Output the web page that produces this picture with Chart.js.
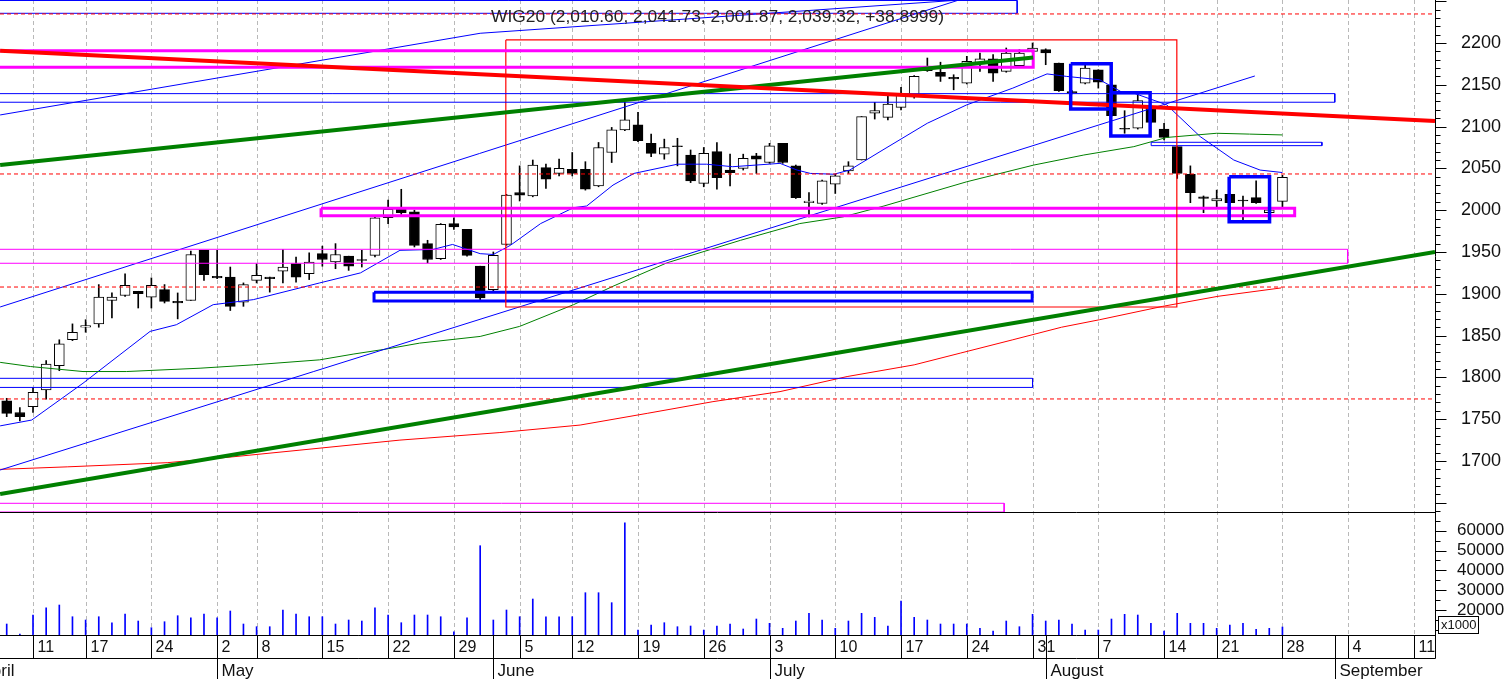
<!DOCTYPE html>
<html>
<head>
<meta charset="utf-8">
<script src="https://cdn.jsdelivr.net/npm/chart.js@4.4.0/dist/chart.umd.min.js"></script>
<style>
html,body{margin:0;padding:0;background:#fff;overflow:hidden}
canvas{display:block}
</style>
</head>
<body>
<canvas id="chart" width="1506" height="679"></canvas>
<script>
// WIG20 daily, trading-day index 0 = 5 Apr 2023 ... 97 = 28 Aug 2023
const open = [1772,1758,1765,1785,1814,1845,1860,1864,1892,1898, 1903,1896,1905,1891,1892,1952,1921,1920,1890,1916,
  1920,1927,1936,1924,1948,1938,1945,1941,1946,1991, 2001,1998,1960,1942,1984,1977,1933,1905,1959,2021,
  2017,2051,2044,2049,2049,2029,2069,2096,2102,2080, 2067,2077,2066,2032,2070,2048,2050,2065,2057,2080,
  2053,2009,2008,2031,2047,2060,2116,2111,2123,2136, 2167,2165,2159,2152,2175,2181,2166,2173,2190,2192,
  2176,2142,2152,2168,2150,2098,2098,2123,2097,2076, 2043,2016,2011,2019,2012,2015,1997,2010.60];
const high = [1775,1764,1788,1820,1845,1864,1869,1911,1901,1924, 1903,1919,1911,1901,1951,1952,1952,1932,1913,1936,
  1920,1953,1944,1949,1957,1960,1945,1952,1992,2012, 2025,2000,1964,1984,1991,1977,1933,1950,2019,2053,
  2060,2055,2061,2069,2058,2081,2099,2129,2117,2091, 2085,2086,2072,2075,2081,2067,2067,2068,2080,2080,
  2054,2021,2036,2043,2058,2112,2129,2137,2147,2161, 2182,2177,2162,2184,2188,2186,2194,2192,2200,2193,
  2176,2143,2174,2168,2150,2119,2139,2124,2104,2076, 2053,2017,2024,2020,2017,2035,2001,2041.73];
const low = [1753,1748,1758,1774,1808,1844,1854,1860,1871,1897, 1883,1883,1889,1870,1892,1916,1918,1880,1885,1913,
  1902,1913,1914,1917,1933,1930,1928,1932,1944,1984, 1995,1956,1937,1941,1977,1945,1893,1903,1958,2011,
  2016,2026,2041,2041,2024,2028,2057,2095,2082,2064, 2061,2053,2033,2028,2025,2029,2048,2044,2056,2056,
  2014,1992,2007,2020,2044,2060,2109,2108,2120,2134, 2166,2154,2144,2151,2166,2154,2165,2172,2189,2174,
  2142,2139,2151,2146,2112,2092,2097,2104,2084,2038, 2009,1997,2004,2008,1988,2008,1996,2001.87];
const close = [1757,1753,1782,1816,1840,1854,1862,1896,1896,1910, 1900,1910,1891,1889,1947,1923,1919,1885,1911,1922,
  1918,1932,1920,1938,1941,1947,1933,1940,1991,2001, 1997,1958,1941,1983,1980,1946,1895,1946,2018,2018,
  2054,2037,2050,2044,2025,2075,2096,2108,2083,2068, 2075,2076,2035,2068,2039,2045,2062,2061,2077,2057,
  2015,2011,2035,2041,2053,2112,2119,2127,2138,2160, 2170,2160,2157,2178,2181,2164,2188,2188,2194,2188,
  2143,2140,2170,2153,2113,2097,2131,2105,2087,2044, 2021,2014,2014,2009,2011,2009,2000.42,2039.32];
// volume in thousands
const volume = [12940,7900,17480,21160,22520,16620,14960,16620,13600,17980, 14450,11080,14100,17130,16120,17980,16120,19500,12940,11590,
  11590,20000,17980,16620,16620,12940,14960,14450,21160,17480, 13600,17480,17480,16620,9000,16120,52430,14960,20000,16620,
  25550,16620,16620,16620,28730,28730,23700,64030,9910,12430, 13600,11590,11930,9910,11930,12940,10420,15460,13290,10770,
  14450,18330,14960,10770,14450,18330,16300,11930,24540,16300, 14960,12940,12940,12940,10770,9410,14450,11590,17830,14450,
  14960,12940,9910,9910,15460,17830,17480,13290,9410,18330, 13290,13290,10770,12430,13290,10270,10770,11430];

const titleText = 'WIG20 (2,010.60, 2,041.73, 2,001.87, 2,039.32, +38.8999)';

// first trading day of each week and its day-of-month label
const weekStarts = [2,6,11,16,19,24,29,34,39,43,48,53,58,63,68,73,78,83,88,92,97,102,107];
const weekLabels = ['11','17','24','2','8','15','22','29','5','12','19','26','3','10','17','24','31','7','14','21','28','4','11'];
const monthStarts = [-2.3,16,37,58,79,101];
const monthNames = ['April','May','June','July','August','September'];
const priceTicks = [1700,1750,1800,1850,1900,1950,2000,2050,2100,2150,2200];
const volTicks = [20000,30000,40000,50000,60000];

// moving averages: [day index, value]
const avgFast = [[-0.5,1742],[1.9,1749],[5.8,1793],[10.9,1855],[12.9,1863],[15.7,1887],[18.75,1893],[23.8,1913],[26.9,1925],
  [29.9,1952],[32.4,1953],[33.9,1959],[36,1948],[37,1947],[38.3,1958],[40.6,1984],[43.1,2003],[44.1,2005],[46.1,2030],
  [47.7,2044],[51,2055],[53.2,2055],[55.2,2052],[58.8,2056],[60.1,2048],[61.1,2044],[62.9,2043],[64.1,2048],[66.4,2070],
  [70,2104],[73,2126],[76.5,2146],[79.1,2163],[80.6,2160],[83.1,2156],[84.7,2142],[85.7,2140],[88.2,2126],[90.75,2088],
  [93.3,2060],[95.3,2048],[97,2045]];
const avgMid = [[-0.5,1818],[1.8,1813],[5.8,1807],[9.1,1807],[14.7,1811],[18.75,1815],[23.8,1821],[26.4,1828],[28.9,1834],
  [31.4,1841],[36,1849],[39,1861],[43.1,1887],[46.1,1909],[50.2,1937],[55.8,1964],[60.3,1984],[63.6,1992],[66.7,2005],
  [73,2034],[78.1,2054],[81.9,2066],[85.7,2076],[88.2,2087],[92,2092],[94.5,2091],[97,2090]];
const avgSlow = [[-0.5,1690],[4.6,1693],[12.2,1698],[17.2,1705],[22.3,1713],[29.9,1725],[37.5,1734],[43.6,1743],[48.7,1757],
  [53.7,1771],[58.8,1783],[63.9,1801],[69,1815],[72.5,1829],[76.5,1845],[80.2,1860],[83.1,1869],[87.9,1885],[92.1,1897],[96.9,1907]];

// drawn trend lines
const trendRed = [[-0.5,2190.8],[108.6,2106.7]];
const trendGreenHigh = [[-0.5,2054],[78.05,2182.5]];
const trendGreenLow = [[-0.5,1660.5],[108.6,1950]];
const channelLow = [[-0.5,1689.2],[94.9,2160.5]];
const channelMid = [[-0.5,1884.2],[72.4,2251.4]];
const channelHigh = [[-0.5,2113.9],[36,2211.6],[72.5,2251.4]];
const levels = [2234.7, 2043.3, 1908.1, 1774.2];

// drawn rectangles: from/to day index, high/low price
const zoneFrom = [-3, -3, -3, 37.95, 23.9, -3, 27.93, -3, -3, 87.02];
const zoneTo   = [76.83, 78.05, 100.98, 88.97, 97.93, 101.96, 77.97, 78.0, 75.84, 100.0];
const zoneHigh = [2250.8, 2190.8, 2139.4, 2203.6, 2002.3, 1953.2, 1901.8, 1798.9, 1649.4, 2081.2];
const zoneLow  = [2235.5, 2170.9, 2129.1, 1884.2, 1993.4, 1936.5, 1891.4, 1788.0, 1639, 2077.2];
const boxFrom = [80.9, 83.95, 92.95];
const boxTo   = [83.98, 86.94, 96.02];
const boxHigh = [2175.2, 2140.6, 2040];
const boxLow  = [2121, 2088.8, 1986.2];

const xMin = -0.51, xMax = 108.6;
const priceMin = 1639, priceMax = 2251.4;
const volMin = 7400, volMax = 69430;

const zoneColor = ['#0000ff','#ff00ff','#0000ff','#ff0000','#ff00ff','#ff00ff','#0000ff','#0000ff','#ff00ff','#0000ff'];
const zoneWidth = [1, 3, 1, 1.2, 3, 1, 3, 1, 1, 1];
const FONT = '"Liberation Sans", Arial, sans-serif';

const days = open.map((_, i) => i);

function line(points, color, width, order, dash){
  return {type:'line', yAxisID:'y', data:points.map(p => ({x:p[0], y:p[1]})), borderColor:color, borderWidth:width,
    borderDash:dash || [], pointRadius:0, fill:false, tension:0, order:order, borderCapStyle:'butt', borderJoinStyle:'miter'};
}
function rect(from, to, hi, lo){ return [[from,hi],[to,hi],[to,lo],[from,lo],[from,hi]]; }
function noPad(s){ s.width = 71; s.paddingTop = 0; s.paddingBottom = 0; s.paddingLeft = 0; s.paddingRight = 0; }

const datasets = [];
datasets.push({type:'bar', yAxisID:'vol', data:days.map(i => ({x:i, y:volume[i]})), base:volMin,
  backgroundColor:'#0000ff', barThickness:1, grouped:false, order:60});
datasets.push({type:'bar', yAxisID:'y', data:days.map(i => ({x:i, y:[low[i], high[i]]})),
  backgroundColor:'#000', borderWidth:0, barThickness:1, grouped:false, order:51});
datasets.push({type:'bar', yAxisID:'y', data:days.map(i => ({x:i, y:[open[i], close[i]]})),
  backgroundColor:days.map(i => close[i] > open[i] ? '#fff' : '#000'), borderColor:'#000', borderWidth:1,
  borderSkipped:false, barThickness:10, grouped:false, order:50});
datasets.push(line(avgSlow, '#ff0000', 1, 30));
datasets.push(line(avgMid, '#008000', 1, 30));
datasets.push(line(avgFast, '#0000ff', 1, 30));
datasets.push(line(channelLow, '#0000ff', 1, 29));
datasets.push(line(channelMid, '#0000ff', 1, 29));
datasets.push(line(channelHigh, '#0000ff', 1, 29));
zoneFrom.forEach((f, k) => datasets.push(line(rect(f, zoneTo[k], zoneHigh[k], zoneLow[k]), zoneColor[k], zoneWidth[k], 20)));
levels.forEach(v => datasets.push(line([[xMin, v], [xMax, v]], '#ff0000', 1, 18, [4, 3])));
datasets.push(line(trendGreenHigh, '#008000', 4, 12));
datasets.push(line(trendGreenLow, '#008000', 4, 12));
datasets.push(line(trendRed, '#ff0000', 4, 11));
boxFrom.forEach((f, k) => datasets.push(line(rect(f, boxTo[k], boxHigh[k], boxLow[k]), '#0000ff', 3.5, 5)));

const frame = {
  id:'frame',
  beforeDatasetsDraw(chart){
    const {ctx, chartArea:a, scales:{x}} = chart;
    ctx.save();
    ctx.strokeStyle = '#b9b9b9'; ctx.lineWidth = 1; ctx.setLineDash([4, 3]);
    weekStarts.forEach(d => {
      const px = Math.round(x.getPixelForValue(d)) + 0.5;
      ctx.beginPath(); ctx.moveTo(px, a.top); ctx.lineTo(px, a.bottom); ctx.stroke();
    });
    ctx.restore();
  },
  afterDatasetsDraw(chart){
    const {ctx, chartArea:a, scales:{x, y, vol}} = chart;
    ctx.save();
    ctx.strokeStyle = '#000'; ctx.lineWidth = 1;
    const hl = (x0, x1, yy) => { ctx.beginPath(); ctx.moveTo(x0, yy); ctx.lineTo(x1, yy); ctx.stroke(); };
    const vl = (xx, y0, y1) => { ctx.beginPath(); ctx.moveTo(xx, y0); ctx.lineTo(xx, y1); ctx.stroke(); };
    hl(a.left, a.right, Math.round(y.bottom) + 0.5);

    // ticks on the value axes
    const ax = Math.round(a.right) + 0.5;
    for (let v = Math.ceil(priceMin / 10) * 10; v <= priceMax; v += 10) {
      const py = Math.round(y.getPixelForValue(v)) + 0.5;
      hl(ax, ax + (v % 50 === 0 ? 11 : 5), py);
    }
    for (let v = 10000; v <= volMax; v += 5000) {
      const py = Math.round(vol.getPixelForValue(v)) + 0.5;
      if (py < vol.top) continue;
      hl(ax, ax + (v % 10000 === 0 ? 11 : 5), py);
    }
    ctx.fillStyle = '#fff';
    ctx.fillRect(1438.5, 616.5, 40, 17);
    ctx.strokeRect(1438.5, 616.5, 40, 17);
    ctx.fillStyle = '#111'; ctx.font = '13px ' + FONT; ctx.textAlign = 'left'; ctx.textBaseline = 'middle';
    ctx.fillText('x1000', 1441, 625.5);

    // date axis: day row and month row
    const top = Math.round(a.bottom) + 0.5, mid = top + 23, bot = chart.height;
    hl(0, ax, top); hl(0, ax, mid); vl(ax, top, mid);
    ctx.font = '16px ' + FONT; ctx.textBaseline = 'alphabetic';
    weekStarts.forEach((d, k) => {
      const px = Math.round(x.getPixelForValue(d)) + 0.5;
      vl(px, top, mid);
      ctx.fillText(weekLabels[k], px + 4, top + 16);
    });
    ctx.font = '17px ' + FONT;
    monthStarts.forEach((d, k) => {
      const px = Math.round(x.getPixelForValue(d)) + 0.5;
      vl(px, top, bot);
      ctx.fillText(monthNames[k], px + 4, mid + 17);
    });

    // title
    ctx.font = '17.4px ' + FONT; ctx.fillStyle = '#222'; ctx.textAlign = 'center';
    ctx.fillText(titleText, (a.left + a.right) / 2, 22);
    ctx.restore();
  }
};

new Chart(document.getElementById('chart'), {
  type:'bar',
  data:{datasets},
  options:{
    responsive:false, animation:false, events:[], devicePixelRatio:1,
    layout:{padding:{left:0, right:0, top:0, bottom:44}},
    plugins:{legend:{display:false}, tooltip:{enabled:false}, title:{display:false}},
    scales:{
      x:{type:'linear', min:xMin, max:xMax, offset:false, display:false, grid:{offset:false}},
      y:{type:'linear', position:'right', stack:'panes', stackWeight:512, min:priceMin, max:priceMax,
        grid:{display:false, drawTicks:false}, border:{display:true, color:'#000', width:1},
        ticks:{autoSkip:false, padding:26, color:'#111', font:{family:FONT, size:18}, callback:v => String(v)},
        afterBuildTicks:s => { s.ticks = priceTicks.map(v => ({value:v})); },
        afterFit:noPad},
      vol:{type:'linear', position:'right', stack:'panes', stackWeight:123, min:volMin, max:volMax,
        grid:{display:false, drawTicks:false}, border:{display:true, color:'#000', width:1},
        ticks:{autoSkip:false, padding:22, color:'#111', font:{family:FONT, size:17}, callback:v => String(v)},
        afterBuildTicks:s => { s.ticks = volTicks.map(v => ({value:v})); },
        afterFit:noPad}
    }
  },
  plugins:[frame]
});
</script>
</body>
</html>
